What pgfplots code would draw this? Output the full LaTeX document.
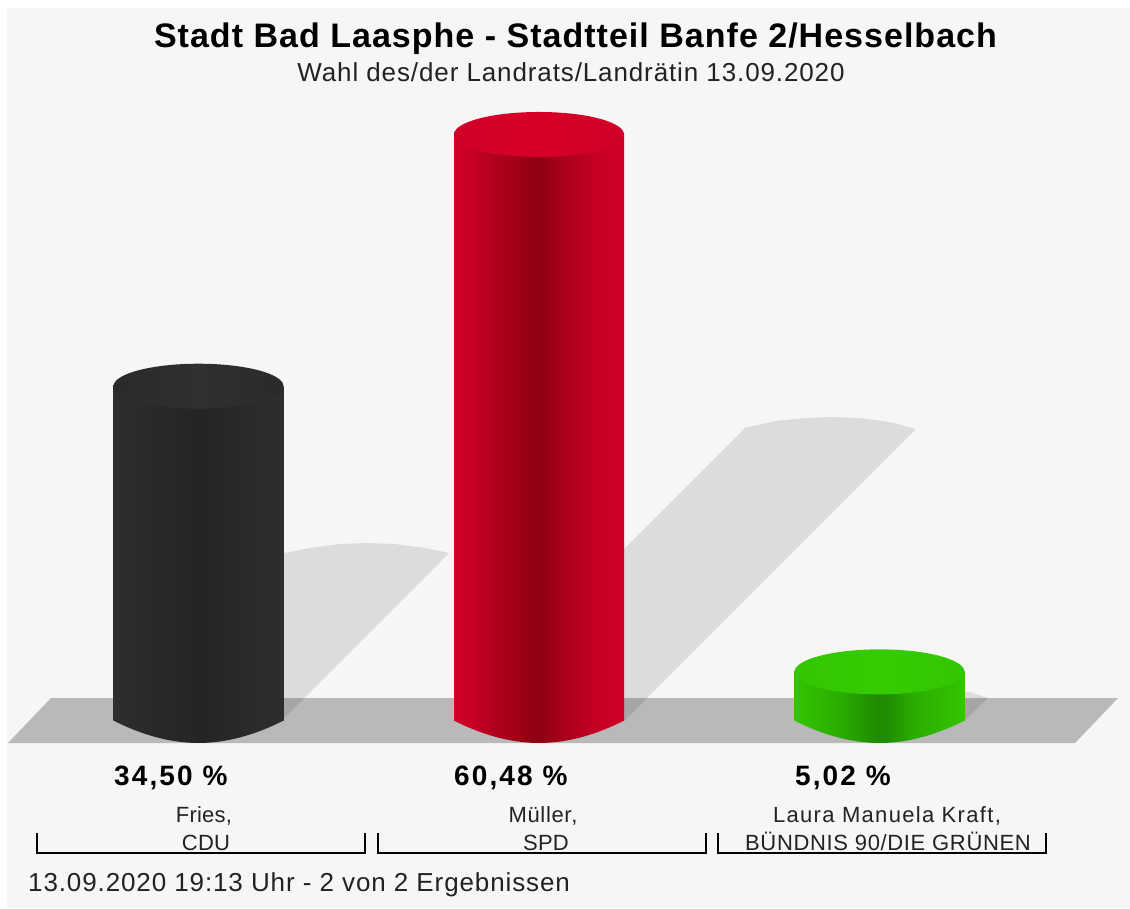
\documentclass[border=0pt]{standalone}
\usepackage{fontspec}
\setmainfont{Liberation Sans}
\usepackage{pgfplots}
\pgfplotsset{compat=1.18}

\definecolor{panel}{HTML}{F6F6F6}
\definecolor{floorgray}{HTML}{B9B9B9}
\definecolor{inktext}{HTML}{222222}

% cylinder bodies: stops sit between 25bp and 75bp, that is the width of the path
\definecolor{ka}{HTML}{2E2E2E}\definecolor{kb}{HTML}{242424}
\pgfdeclarehorizontalshading{cylblack}{100bp}{color(0bp)=(ka); color(25bp)=(ka);
  color(50bp)=(kb); color(75bp)=(ka); color(100bp)=(ka)}
\definecolor{ra}{HTML}{D00028}\definecolor{rb}{HTML}{C80024}\definecolor{rc}{HTML}{AE001E}
\definecolor{rd}{HTML}{8E0012}\definecolor{re}{HTML}{A5001C}
\pgfdeclarehorizontalshading{cylred}{100bp}{color(0bp)=(ra); color(25bp)=(ra); color(30bp)=(rb);
  color(38bp)=(rc); color(49.5bp)=(rd); color(50.5bp)=(rd); color(56bp)=(re); color(68bp)=(rb);
  color(75bp)=(ra); color(100bp)=(ra)}
\definecolor{ga}{HTML}{33C400}\definecolor{gb}{HTML}{2BAD00}\definecolor{gc}{HTML}{1F8C00}
\pgfdeclarehorizontalshading{cylgreen}{100bp}{color(0bp)=(ga); color(25bp)=(ga); color(38bp)=(gb);
  color(49bp)=(gc); color(52bp)=(gc); color(60bp)=(gb); color(75bp)=(ga); color(100bp)=(ga)}
% caps
\definecolor{cka}{HTML}{2A2A2A}\definecolor{ckb}{HTML}{303030}
\pgfdeclarehorizontalshading{capblack}{100bp}{color(0bp)=(cka); color(25bp)=(cka);
  color(50bp)=(ckb); color(75bp)=(cka); color(100bp)=(cka)}
\definecolor{cra}{HTML}{D00028}\definecolor{crb}{HTML}{D80028}
\pgfdeclarehorizontalshading{capred}{100bp}{color(0bp)=(cra); color(25bp)=(cra);
  color(50bp)=(crb); color(75bp)=(cra); color(100bp)=(cra)}
\definecolor{cga}{HTML}{32C600}\definecolor{cgb}{HTML}{34CC00}
\pgfdeclarehorizontalshading{capgreen}{100bp}{color(0bp)=(cga); color(25bp)=(cga);
  color(50bp)=(cgb); color(75bp)=(cga); color(100bp)=(cga)}

% round end of a cylinder, one pair of marks per colour
\newcommand{\cylmarks}[1]{%
  \pgfdeclareplotmark{top#1}{%
    \pgfpathellipse{\pgfpointorigin}{\pgfqpoint{85pt}{0pt}}{\pgfqpoint{0pt}{22.5pt}}%
    \pgfshadepath{cap#1}{0}\pgfusepath{discard}}%
  \pgfdeclareplotmark{bottom#1}{%
    \pgfpathmoveto{\pgfqpoint{-85pt}{1pt}}%
    \pgfpathlineto{\pgfqpoint{-85pt}{0pt}}%
    \pgfpathcurveto{\pgfqpoint{-60pt}{-13pt}}{\pgfqpoint{-30pt}{-22.5pt}}{\pgfqpoint{0pt}{-22.5pt}}%
    \pgfpathcurveto{\pgfqpoint{30pt}{-22.5pt}}{\pgfqpoint{60pt}{-13pt}}{\pgfqpoint{85pt}{0pt}}%
    \pgfpathlineto{\pgfqpoint{85pt}{1pt}}\pgfpathclose
    \pgfshadepath{cyl#1}{0}\pgfusepath{discard}}}
\cylmarks{black}\cylmarks{red}\cylmarks{green}

\pgfplotsset{frame/.style={scale only axis, width=1130pt, height=908pt, hide axis, clip=false}}
% anchor, x, y, size, letter spacing, text
\newcommand{\txt}[6]{\node[anchor=#1, inner sep=0pt, text=inktext,
  font={\fontsize{#4}{#4}\selectfont\addfontfeature{LetterSpace=#5}}] at (axis cs:#2,#3) {#6};}
\newcommand{\txtb}[6]{\node[anchor=#1, inner sep=0pt, text=black,
  font={\fontsize{#4}{#4}\selectfont\bfseries\addfontfeature{LetterSpace=#5}}] at (axis cs:#2,#3) {#6};}

\begin{document}
\begin{tikzpicture}
% backdrop, in pixels of the picture
\begin{axis}[frame, at={(0,0)}, xmin=0, xmax=1130, ymin=0, ymax=908, y dir=reverse]
\addplot[fill=white, draw=none] coordinates {(0,0)(1130,0)(1130,908)(0,908)} -- cycle;
\addplot[fill=panel, draw=none] coordinates {(7,8)(1130,8)(1130,908)(7,908)} -- cycle;
\addplot[fill=floorgray, draw=none] coordinates {(8,743)(51,698)(1118,698)(1075,743)} -- cycle;
% shadows
\addplot[fill=black, fill opacity=0.1, draw=none] coordinates {
  (270,720)(270,556)(284,553)(310,548)(340,544)(367,543)(395,544)(425,548)(449,553)(282,720)} -- cycle;
\addplot[fill=black, fill opacity=0.1, draw=none] coordinates {
  (610,720)(610,549)(624,549)(745,428)(775,421)(805,418)(830,417)(860,418)(890,422)(916,429)(625,720)} -- cycle;
\addplot[fill=black, fill opacity=0.1, draw=none] coordinates {
  (955,690)(970,692)(988,698)(965,720)(955,720)} -- cycle;
% brackets
\addplot[black, line width=1.6pt] coordinates {(37,833)(37,853)(365,853)(365,833)};
\addplot[black, line width=1.6pt] coordinates {(378,833)(378,853)(706,853)(706,833)};
\addplot[black, line width=1.6pt] coordinates {(718,833)(718,853)(1046,853)(1046,833)};
% texts
\txtb{base}{575.5}{47}{34}{3}{Stadt Bad Laasphe - Stadtteil Banfe 2/Hesselbach}
\txt{base}{571}{81}{26}{3.4}{Wahl des/der Landrats/Landrätin 13.09.2020}
\txtb{base west}{114}{785}{28}{7.5}{34,50 \%}
\txtb{base west}{454}{785}{28}{7.5}{60,48 \%}
\txtb{base west}{795}{785}{28}{7.5}{5,02 \%}
\txt{base}{204}{822}{22}{1}{Fries,}
\txt{base}{206}{850}{22}{1}{CDU}
\txt{base}{543}{822}{22}{3}{Müller,}
\txt{base}{546}{850}{22}{1}{SPD}
\txt{base}{887}{822}{22}{6}{Laura Manuela Kraft,}
\txt{base}{888}{850}{22}{3}{BÜNDNIS 90/DIE GRÜNEN}
\txt{base west}{28}{891}{26}{3.4}{13.09.2020 19:13 Uhr - 2 von 2 Ergebnissen}
\end{axis}
% the values: share of votes in percent, candidates at 0, 1, 2
\begin{axis}[frame, at={(0,0)}, xmin=-0.58297, xmax=2.7357, ymin=-19.35, ymax=74.36]
\addplot[ybar, bar width=170pt, bar shift=0pt, draw=none, shading=cylblack] coordinates {(0,34.50)};
\addplot[only marks, mark=bottomblack] coordinates {(0,0)};
\addplot[only marks, mark=topblack] coordinates {(0,34.50)};
\addplot[ybar, bar width=170pt, bar shift=0pt, draw=none, shading=cylred] coordinates {(1,60.48)};
\addplot[only marks, mark=bottomred] coordinates {(1,0)};
\addplot[only marks, mark=topred] coordinates {(1,60.48)};
\addplot[ybar, bar width=170pt, bar shift=0pt, draw=none, shading=cylgreen] coordinates {(2,5.02)};
\addplot[only marks, mark=bottomgreen] coordinates {(2,0)};
\addplot[only marks, mark=topgreen] coordinates {(2,5.02)};
\end{axis}
\end{tikzpicture}
\end{document}
